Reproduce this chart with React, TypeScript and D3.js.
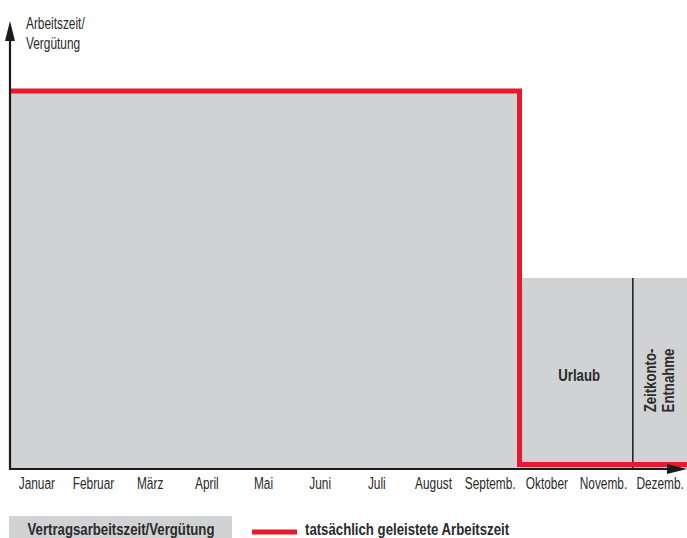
import React from "react";
import * as d3 from "d3";

const months = ["Januar", "Februar", "März", "April", "Mai", "Juni", "Juli", "August", "Septemb.", "Oktober", "Novemb.", "Dezemb."];
const contractValues = [100, 100, 100, 100, 100, 100, 100, 100, 100, 50, 50, 50];
const actualValues = [100, 100, 100, 100, 100, 100, 100, 100, 100, 0, 0, 0];
const segmentLabels = [
  { from: "Oktober", to: "Novemb.", lines: ["Urlaub"], vertical: false },
  { from: "Dezemb.", to: "Dezemb.", lines: ["Zeitkonto-", "Entnahme"], vertical: true },
];
const yAxisLabel = ["Arbeitszeit/", "Vergütung"];
const legendGray = "Vertragsarbeitszeit/Vergütung";
const legendRed = "tatsächlich geleistete Arbeitszeit";

const W = 687;
const H = 538;
const GRAY = "#d1d2d4";
const RED = "#e8192c";
const AXIS = "#1a1a1a";
const TEXT = "#2a2a2a";
const FONT = "'Liberation Sans', Arial, sans-serif";
const REG_SIZE = 16.5;
const BOLD_SIZE = 16;
const REG_SX = 0.72;
const BOLD_SX = 0.825;

function T({ x, y, children, bold = false, anchor = "start", rotate = 0 }: any) {
  const sx = bold ? BOLD_SX : REG_SX;
  return (
    <text
      transform={`translate(${x},${y}) rotate(${rotate}) scale(${sx},1)`}
      x={0}
      y={0}
      textAnchor={anchor}
      dominantBaseline="central"
      fontWeight={bold ? "bold" : "normal"}
      fontSize={bold ? BOLD_SIZE : REG_SIZE}
      fill={TEXT}
    >
      {children}
    </text>
  );
}

export default function App() {
  const x = d3.scaleBand<string>().domain(months).range([9.5, 689.5]).padding(0);
  const y = d3.scaleLinear().domain([0, 100]).range([469, 91]);
  const bw = x.bandwidth();
  const axisX = 10;
  const axisY = y(0);
  const redW = 5;

  const blocks: { x0: number; x1: number; v: number }[] = [];
  months.forEach((m, i) => {
    const v = contractValues[i];
    const x0 = x(m)!;
    const last = blocks[blocks.length - 1];
    if (last && last.v === v) last.x1 = x0 + bw;
    else blocks.push({ x0, x1: x0 + bw, v });
  });

  const pts: [number, number][] = [];
  months.forEach((m, i) => {
    const v = actualValues[i];
    const yy = v === 0 ? axisY - 4.5 : y(v);
    const x0 = i === 0 ? axisX + 1 : x(m)!;
    const x1 = i === months.length - 1 ? W : x(m)! + bw;
    pts.push([x0, yy], [x1, yy]);
  });
  const line = d3.line();

  return (
    <svg width={W} height={H} style={{ position: "absolute", left: 0, top: 0, background: "#fff" }} fontFamily={FONT}>
      {blocks.map((b, i) => (
        <rect key={i} x={Math.max(b.x0, axisX)} y={y(b.v) - 2} width={Math.min(b.x1, W) - Math.max(b.x0, axisX)} height={axisY - y(b.v) + 2} fill={GRAY} />
      ))}
      {segmentLabels.slice(1).map((s, i) => (
        <line key={i} x1={x(s.from)!} x2={x(s.from)!} y1={y(contractValues[months.indexOf(s.from)]) - 2} y2={axisY} stroke={AXIS} strokeWidth={1.5} />
      ))}
      {segmentLabels.map((s, i) => {
        const x0 = x(s.from)!;
        const x1 = Math.min(x(s.to)! + bw, W);
        const cx = (x0 + x1) / 2;
        const v = contractValues[months.indexOf(s.from)];
        const cy = (y(v) + axisY) / 2;
        if (!s.vertical) {
          return (
            <T key={i} x={cx + 3} y={cy + 1} bold anchor="middle">
              {s.lines[0]}
            </T>
          );
        }
        return (
          <g key={i}>
            {s.lines.map((t, j) => (
              <T key={j} x={cx + (j - (s.lines.length - 1) / 2) * 18} y={cy + 6} bold anchor="middle" rotate={-90}>
                {t}
              </T>
            ))}
          </g>
        );
      })}
      <path d={line(pts) || ""} fill="none" stroke={RED} strokeWidth={redW} strokeLinejoin="miter" />
      <line x1={axisX} x2={axisX} y1={axisY + 1} y2={36} stroke={AXIS} strokeWidth={2.2} />
      <path d={`M${axisX},21 L${axisX - 5},41 L${axisX + 5},41 Z`} fill={AXIS} />
      <line x1={axisX - 1} x2={670} y1={axisY} y2={axisY} stroke={AXIS} strokeWidth={2.2} />
      <path d={`M687,${axisY} L667,${axisY - 5} L667,${axisY + 5} Z`} fill={AXIS} />
      {yAxisLabel.map((t, i) => (
        <T key={i} x={26} y={23 + i * 20}>
          {t}
        </T>
      ))}
      {months.map((m) => (
        <T key={m} x={x(m)! + bw / 2 - 1} y={483} anchor="middle">
          {m}
        </T>
      ))}
      <rect x={9} y={516} width={223} height={24} fill={GRAY} />
      <T x={121} y={530} bold anchor="middle">
        {legendGray}
      </T>
      <line x1={252} x2={297} y1={532} y2={532} stroke={RED} strokeWidth={5} />
      <T x={305} y={530} bold>
        {legendRed}
      </T>
    </svg>
  );
}
